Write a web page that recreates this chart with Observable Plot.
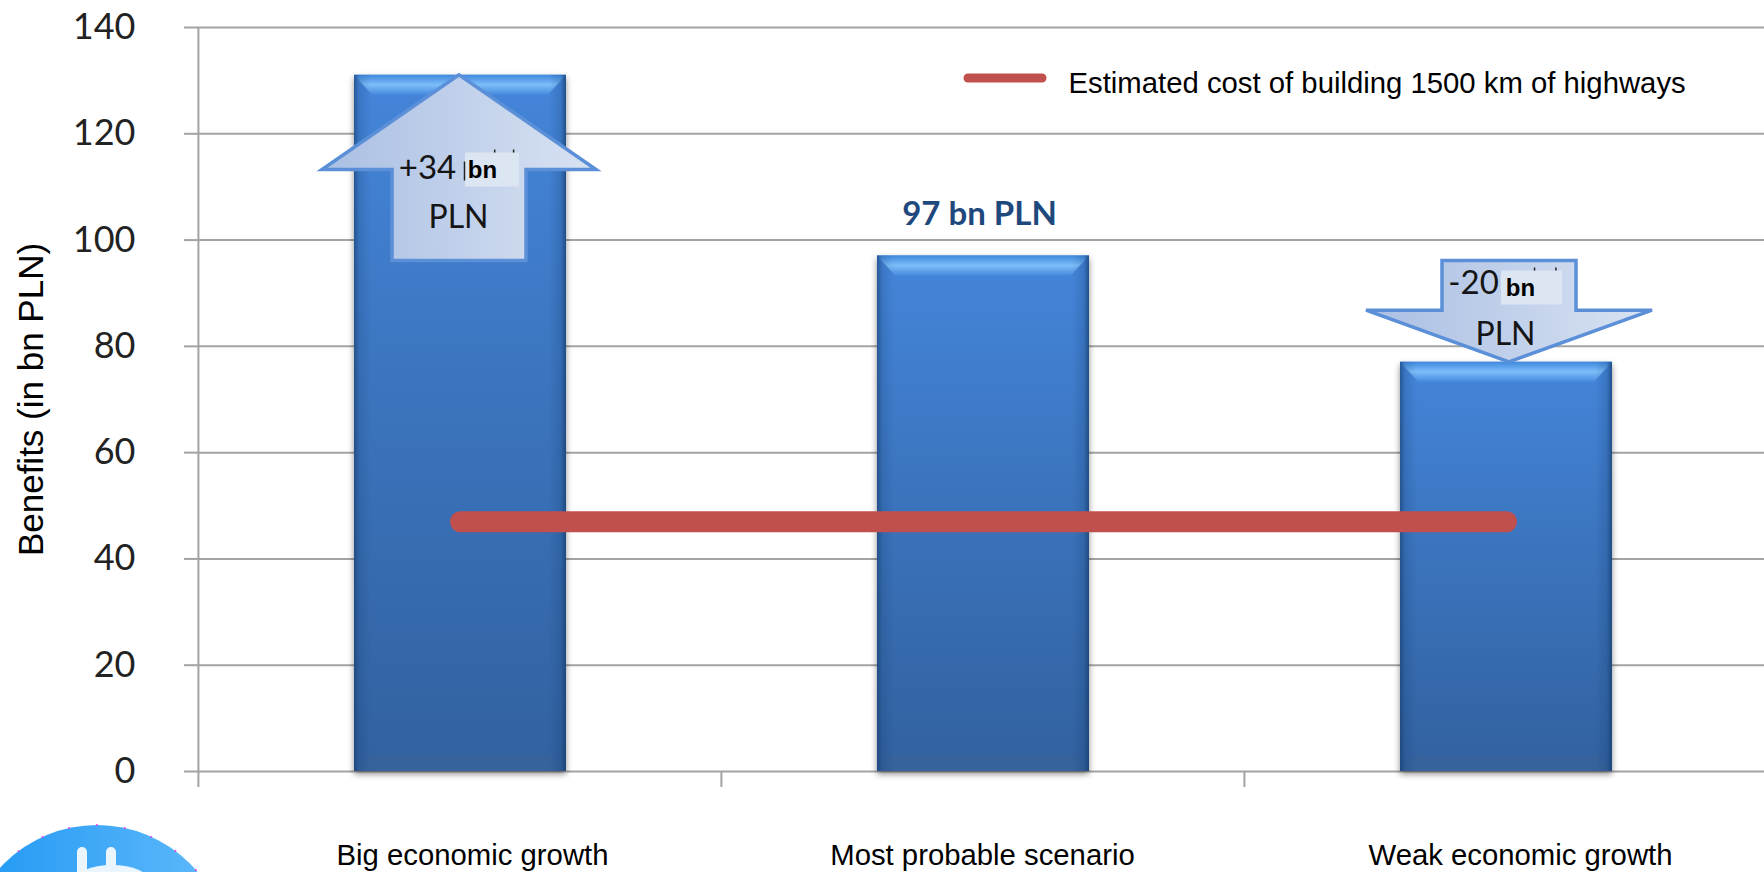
<!DOCTYPE html>
<html>
<head>
<meta charset="utf-8">
<script src="https://cdn.jsdelivr.net/npm/d3@7"></script>
<script src="https://cdn.jsdelivr.net/npm/@observablehq/plot@0.6"></script>
<style>
  html, body { margin: 0; padding: 0; background: #fff; }
  svg { display: block; }
  .scenario-bars { filter: drop-shadow(0 3px 3px rgba(0, 0, 0, 0.45)); }
</style>
</head>
<body>
<div id="chart"></div>
<script>
// Scenario benefits of the highway programme, in bn PLN
const scenarios = ["Big economic growth", "Most probable scenario", "Weak economic growth"];
const benefits = [131, 97, 77];
const buildingCost = 47;
const costLabel = "Estimated cost of building 1500 km of highways";
const axisTitle = "Benefits (in bn PLN)";
const baseLabel = "97 bn PLN";
const yTicks = [0, 20, 40, 60, 80, 100, 120, 140];
const baseScenario = 1;
const deltaScenarios = [0, 2];
const deltaLabels = ["+34", "-20"];
const unitLabel = "bn";
const currencyLabel = "PLN";

const sans = "'Liberation Sans', Arial, sans-serif";
const humanist = "Lato, sans-serif";
const gridColor = "#a3a3a3";

const svgEl = (name, attrs = {}) => {
  const el = document.createElementNS("http://www.w3.org/2000/svg", name);
  for (const [k, v] of Object.entries(attrs)) el.setAttribute(k, v);
  return el;
};
const gradient = (id, vertical, stops) => {
  const g = svgEl("linearGradient", {id, x1: 0, y1: 0, x2: vertical ? 0 : 1, y2: vertical ? 1 : 0});
  for (const [offset, color, opacity = 1] of stops) {
    g.append(svgEl("stop", {offset, "stop-color": color, "stop-opacity": opacity}));
  }
  return g;
};

// Shared paint servers for bars and arrows
const defs = () => {
  const d = svgEl("defs");
  d.append(
    gradient("barBody", true, [[0, "#4485da"], [0.35, "#3d78c4"], [1, "#32619f"]]),
    gradient("barSides", false, [[0, "#123a6a", 0.6], [0.025, "#123a6a", 0.18], [0.08, "#123a6a", 0], [0.92, "#123a6a", 0], [0.975, "#123a6a", 0.2], [1, "#123a6a", 0.7]]),
    gradient("bevelTop", true, [[0, "#3f88dd"], [0.5, "#7cbefa"], [1, "#4689dc"]]),
    gradient("arrowFill", false, [[0, "#aabfe3"], [1, "#d8e2f2"]]),
    gradient("badgeFill", false, [[0, "#1f97f3"], [1, "#62bbfb"]])
  );
  return d;
};

// Top and bottom bevels, fitted to each bar through the scales
const bevels = (index, {x, y}) => {
  const g = svgEl("g");
  const w = x.bandwidth();
  const bottom = y(0);
  scenarios.forEach((s, i) => {
    const l = x(s), r = l + w, t = y(benefits[i]);
    g.append(svgEl("polygon", {points: `${l},${t} ${r},${t} ${r - 18},${t + 20} ${l + 18},${t + 20}`, fill: "url(#bevelTop)"}));
    g.append(svgEl("polygon", {points: `${l},${bottom} ${r},${bottom} ${r - 14},${bottom - 15} ${l + 14},${bottom - 15}`, fill: "#36639c"}));
    g.append(svgEl("rect", {x: l, y: t, width: w, height: bottom - t, fill: "url(#barSides)"}));
  });
  return g;
};

// Boundary ticks between the scenario bands, plus the frame's left edge
const bandTicks = (index, {x, y}) => {
  const g = svgEl("g", {stroke: gridColor, "stroke-width": 2});
  const step = x.step();
  const first = x(scenarios[0]) - step * x.paddingOuter();
  scenarios.forEach((s, i) => {
    const px = first + i * step;
    g.append(svgEl("line", {x1: px, x2: px, y1: y(0), y2: y(0) + 16}));
  });
  g.append(svgEl("line", {x1: first, x2: first, y1: y(140), y2: y(0)}));
  return g;
};

// Block arrows running from the base scenario's level to each other scenario
const arrowShift = [-1, 3];
const arrowWing = [137, 143];
const arrows = (index, {x, y}) => {
  const g = svgEl("g", {fill: "url(#arrowFill)", stroke: "#5b90d8", "stroke-width": 3.5, "stroke-linejoin": "miter"});
  const from = y(benefits[baseScenario]) + 5;
  deltaScenarios.forEach((i, k) => {
    const cx = x(scenarios[i]) + x.bandwidth() / 2 + arrowShift[k];
    const to = y(benefits[i]);
    const head = from + (to - from) * 0.49;
    const wing = arrowWing[k];
    const pts = [[-67, from], [67, from], [67, head], [wing, head], [0, to], [-wing, head], [-67, head]];
    g.append(svgEl("polygon", {points: pts.map(([dx, py]) => `${cx + dx},${py}`).join(" ")}));
  });
  return g;
};

// Pale patches holding the "bn" unit, with the traces of lettering they cover
const patchOffset = [[5, -103, 54], [-5, 15, 61]];
const unitPatches = (index, {x, y}) => {
  const g = svgEl("g");
  const from = y(benefits[baseScenario]);
  deltaScenarios.forEach((i, k) => {
    const cx = x(scenarios[i]) + x.bandwidth() / 2;
    const [dx, dy, width] = patchOffset[k];
    const left = cx + dx, top = from + dy;
    g.append(svgEl("rect", {x: left, y: top, width, height: 34, fill: "#dce5f2"}));
    const marks = svgEl("g", {stroke: "#222", "stroke-width": 1.5});
    if (k === 0) marks.append(svgEl("line", {x1: left - 0.5, x2: left - 0.5, y1: top + 9, y2: top + 28}));
    for (const f of [0.55, 0.9]) {
      marks.append(svgEl("line", {x1: left + width * f, x2: left + width * f, y1: top - 3, y2: top}));
    }
    g.append(marks);
  });
  return g;
};

// Legend swatch in the upper right of the plot
const legendSwatch = () =>
  svgEl("line", {x1: 968, x2: 1042, y1: 78, y2: 78, stroke: "#c0504d", "stroke-width": 9, "stroke-linecap": "round"});

// Company badge cut off by the lower left edge
const badge = () => {
  const g = svgEl("g");
  g.append(svgEl("circle", {cx: 97, cy: 956, r: 131, fill: "url(#badgeFill)"}));
  g.append(svgEl("circle", {cx: 97, cy: 956, r: 131, fill: "none", stroke: "#e83ee8", "stroke-width": 1.5, "stroke-dasharray": "2 26"}));
  g.append(svgEl("ellipse", {cx: 112, cy: 882, rx: 38, ry: 17, fill: "#eaf5fe"}));
  for (const cx of [82, 111]) g.append(svgEl("rect", {x: cx - 5, y: 847, width: 10, height: 30, rx: 5, fill: "#eaf5fe"}));
  return g;
};

const rows = scenarios.map((scenario, i) => ({scenario, value: benefits[i]}));
const base = benefits[baseScenario];

// A note placed relative to a bar's centre and the base scenario's level
const note = (scenario, text, dx, dy, options = {}) =>
  Plot.text([text], {x: () => scenario, y: () => base, text: (d) => d, dx, dy, fontFamily: humanist, fontSize: 33, fill: "#151515", ...options});

const labelShift = [12, -1, 14];
const bold = {fontFamily: sans, fontWeight: 700, fontSize: 24, fill: "#000"};

const chart = Plot.plot({
  width: 1764,
  height: 872,
  marginLeft: 198,
  marginRight: 0,
  marginTop: 27,
  marginBottom: 101,
  style: {background: "#fff", overflow: "hidden"},
  x: {axis: null, domain: scenarios, range: [197, 1768], paddingInner: 0.595, paddingOuter: 0.2975},
  y: {axis: null, domain: [0, 140]},
  marks: [
    defs,
    badge,
    Plot.gridY(yTicks, {stroke: gridColor, strokeOpacity: 1, strokeWidth: 2}),
    Plot.axisY({
      ticks: yTicks, tickSize: 14, tickPadding: 49, stroke: gridColor, strokeWidth: 2,
      fontSize: 36, fontFamily: humanist, fill: "#222", label: null
    }),
    Plot.text([axisTitle], {frameAnchor: "left", textAnchor: "middle", rotate: -90, dx: -167, fontFamily: sans, fontSize: 35, fill: "#000"}),
    bandTicks,
    ...scenarios.map((s, i) =>
      Plot.text([s], {x: () => s, frameAnchor: "bottom", dx: labelShift[i], dy: 93, fontFamily: sans, fontSize: 29.3, fill: "#000"})
    ),
    Plot.barY(rows, {x: "scenario", y: "value", fill: "url(#barBody)", className: "scenario-bars"}),
    bevels,
    Plot.line(scenarios.map((s) => ({s, v: buildingCost})), {x: "s", y: "v", stroke: "#c0504d", strokeWidth: 21, strokeLinecap: "round", curve: "linear"}),
    arrows,
    unitPatches,
    note(scenarios[0], deltaLabels[0], -33, -88),
    note(scenarios[0], currencyLabel, -2, -38, {fontSize: 32}),
    note(scenarios[0], unitLabel, 22, -86, bold),
    note(scenarios[2], deltaLabels[1], -33, 27),
    note(scenarios[2], currencyLabel, -1, 79, {fontSize: 32}),
    note(scenarios[2], unitLabel, 14, 32, bold),
    note(scenarios[1], baseLabel, -4, -42, {fontWeight: 700, fontSize: 33, fill: "#1f497d"}),
    legendSwatch,
    Plot.text([costLabel], {frameAnchor: "top-left", dx: 870, dy: 45, fontFamily: sans, fontSize: 29.3, fill: "#000"})
  ]
});
document.getElementById("chart").append(chart);
</script>
</body>
</html>
